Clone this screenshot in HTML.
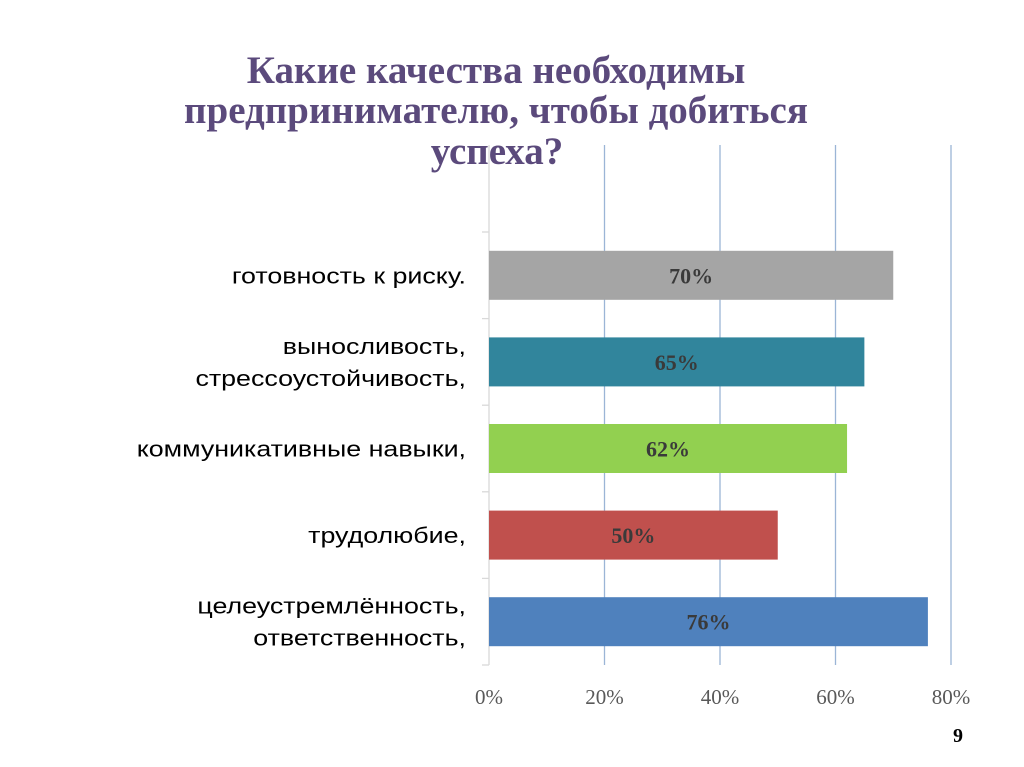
<!DOCTYPE html>
<html><head><meta charset="utf-8"><style>
body{margin:0;background:#fff;width:1024px;height:767px;overflow:hidden}
svg{display:block}
</style></head><body>
<svg width="1024" height="767" xmlns="http://www.w3.org/2000/svg">
<g font-family="Liberation Serif, serif" font-weight="bold" font-size="39" fill="#5b4a7c" text-anchor="middle">
<text x="496" y="83">Какие качества необходимы</text>
<text x="496" y="123">предпринимателю, чтобы добиться</text>
<text x="497" y="164">успеха?</text>
</g>
<g id="grid"></g><g id="bars"></g><g id="labels"></g><g id="ticks"></g>
<text x="958" y="742" font-family="Liberation Serif, serif" font-weight="bold" font-size="20" fill="#000" text-anchor="middle">9</text>
<script>
const categories=[["готовность к риску."],["выносливость,","стрессоустойчивость,"],["коммуникативные навыки,"],["трудолюбие,"],["целеустремлённость,","ответственность,"]];
const values=[70,65,62,50,76];
const colors=["#a5a5a5","#31859c","#92d050","#c0504d","#4f81bd"];
const tickValues=[0,20,40,60,80];
const tickLabels=["0%","20%","40%","60%","80%"];
const NS="http://www.w3.org/2000/svg";
const x0=489,x1=951,yTop=232,yBot=665,vmax=80;
const xs=v=>x0+(v/vmax)*(x1-x0);
const band=(yBot-yTop)/categories.length;
function mk(t,a,p){const e=document.createElementNS(NS,t);for(const k in a)e.setAttribute(k,a[k]);p.appendChild(e);return e;}
const grid=document.getElementById('grid'),bars=document.getElementById('bars'),labels=document.getElementById('labels'),ticks=document.getElementById('ticks');
tickValues.forEach((v,i)=>{
 if(i>0){const l=mk('line',{x1:xs(v),x2:xs(v),y1:145,y2:yBot,stroke:'#9bb5d6','stroke-width':1.3},grid);
 
 }
 const t=mk('text',{x:xs(v),y:704,'text-anchor':'middle','font-family':'Liberation Serif, serif','font-size':21,fill:'#595959'},ticks);
 t.textContent=tickLabels[i];
 
 
});
const ax=mk('line',{x1:x0,x2:x0,y1:145,y2:yBot,stroke:'#d9d9d9','stroke-width':1.3},grid);


for(let i=0;i<=categories.length;i++){const y=yTop+i*band;const tk=mk('line',{x1:x0-7,x2:x0,y1:y,y2:y,stroke:'#d9d9d9','stroke-width':1.3},grid);
 
 }
values.forEach((v,i)=>{
 const cy=yTop+band*(i+0.5);
 const r=mk('rect',{x:x0,y:cy-24.5,width:xs(v)-x0,height:49,fill:colors[i]},bars);
 
 
 const t=mk('text',{x:(x0+xs(v))/2,y:cy+8,'text-anchor':'middle','font-family':'Liberation Serif, serif','font-weight':'bold','font-size':22,fill:'#3a3a3a'},bars);
 t.textContent=v+'%';
 
 
 const lines=categories[i];
 lines.forEach((s,j)=>{
  const ly=cy+8+(j-(lines.length-1)/2)*32;
  const g=mk('g',{transform:'translate(466,'+ly+') scale(1.22,1)'},labels);
  const c=mk('text',{x:0,y:0,'text-anchor':'end','font-family':'Liberation Sans, sans-serif','font-size':22,fill:'#000'},g);
  c.textContent=s;
  
  
 });
});
</script>
</svg>
</body></html>
